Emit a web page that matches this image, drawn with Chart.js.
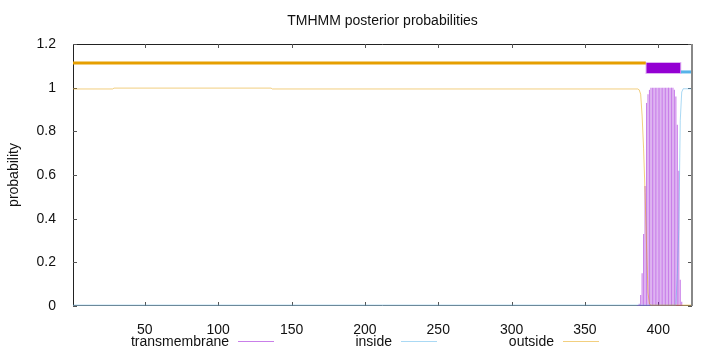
<!DOCTYPE html>
<html>
<head>
<meta charset="utf-8">
<script src="https://cdn.jsdelivr.net/npm/chart.js@4.4.1/dist/chart.umd.min.js"></script>
<style>
    html, body { margin: 0; padding: 0; background: #fff; }
    #wrap { width: 720px; height: 352px; }
</style>
</head>
<body>
<div id="wrap"><canvas id="tmhmm"></canvas></div>
<script>
// sequence / axes
const seqStart = 1;
const seqEnd = 423;
const xTicks = [50, 100, 150, 200, 250, 300, 350, 400];
const yTicks = [0, 0.2, 0.4, 0.6, 0.8, 1, 1.2];
const yTickLabels = ['0', '0.2', '0.4', '0.6', '0.8', '1', '1.2'];
const seriesNames = ['transmembrane', 'inside', 'outside'];

// posterior probability of "outside" (breakpoints)
const outsidePos = [1, 28, 29, 136, 137, 386, 387, 388, 389, 390, 391, 392, 393, 394, 395, 423];
const outsideVal = [0.994, 0.994, 0.998, 0.998, 0.994, 0.994, 0.99, 0.97, 0.87, 0.72, 0.52, 0.28, 0.06, 0.01, 0.004, 0.004];

// posterior probability of "inside"
const insidePos = [1, 412, 413, 414, 415, 416, 417, 423];
const insideVal = [0.004, 0.004, 0.15, 0.35, 0.85, 0.98, 0.995, 0.995];

// posterior probability of "transmembrane" (impulses, one per residue)
const tmPos = [386, 387, 388, 389, 390, 391, 392, 393, 394, 395, 396, 397, 398, 399, 400,
               401, 402, 403, 404, 405, 406, 407, 408, 409, 410, 411, 412, 413, 414, 415, 416];
const tmVal = [0.005, 0.01, 0.05, 0.15, 0.33, 0.55, 0.93, 0.97, 0.99, 1, 1, 1, 1, 1, 1,
               1, 1, 1, 1, 1, 1, 1, 1, 1, 1, 0.99, 0.96, 0.83, 0.62, 0.12, 0.02];

// predicted topology drawn above the curves
const topoStart = [1, 392, 415.5];
const topoEnd = [391.5, 415, 423];
const topoLevel = [1.113, 1.09, 1.072];

const colTM = '#9400d3';
const colIn = '#56b4e9';
const colOut = '#e69f00';
const thinTM = 'rgba(148, 0, 211, 0.5)';
const thinIn = 'rgba(86, 180, 233, 0.5)';
const thinOut = 'rgba(230, 159, 0, 0.5)';

const pts = (xs, ys) => xs.map((x, i) => ({ x: x, y: ys[i] }));
const seg = (i, pad) => [{ x: topoStart[i] - pad, y: topoLevel[i] }, { x: topoEnd[i] + pad, y: topoLevel[i] }];

const FONT = '"Liberation Sans", Arial, sans-serif';

// gnuplot style frame, inward ticks, title and key
const gnuplotFrame = {
    id: 'gnuplotFrame',
    beforeDatasetsDraw(chart) {
        const { ctx, chartArea: a, scales: { x, y } } = chart;
        ctx.save();
        ctx.strokeStyle = '#222';
        ctx.lineWidth = 1;
        ctx.beginPath();
        ctx.moveTo(a.left + 0.5, a.bottom);
        ctx.lineTo(a.left + 0.5, a.top + 0.5);
        ctx.lineTo(a.right, a.top + 0.5);
        ctx.stroke();
        ctx.strokeStyle = '#777';
        ctx.beginPath();
        ctx.moveTo(a.left, a.bottom - 0.5);
        ctx.lineTo(a.right, a.bottom - 0.5);
        ctx.stroke();
        ctx.strokeStyle = '#555';
        ctx.beginPath();
        xTicks.forEach(v => {
            const px = Math.round(x.getPixelForValue(v)) + 0.5;
            ctx.moveTo(px, a.bottom);
            ctx.lineTo(px, a.bottom - 4);
            ctx.moveTo(px, a.top);
            ctx.lineTo(px, a.top + 4);
        });
        yTicks.forEach(v => {
            const py = Math.round(y.getPixelForValue(v)) + 0.5;
            ctx.moveTo(a.left, py);
            ctx.lineTo(a.left + 4, py);
            ctx.moveTo(a.right, py);
            ctx.lineTo(a.right - 4, py);
        });
        ctx.stroke();
        ctx.restore();
    },
    afterDraw(chart) {
        const { ctx, chartArea: a } = chart;
        ctx.save();
        ctx.strokeStyle = '#888';
        ctx.lineWidth = 2;
        ctx.beginPath();
        ctx.moveTo(a.right, a.top);
        ctx.lineTo(a.right, a.bottom);
        ctx.stroke();

        ctx.fillStyle = '#111';
        ctx.font = '14px ' + FONT;
        ctx.textBaseline = 'middle';
        ctx.textAlign = 'center';
        ctx.fillText('TMHMM posterior probabilities', (a.left + a.right) / 2, 21);

        const keyRight = [229, 392, 554];
        const keyCol = [thinTM, thinIn, thinOut];
        ctx.textAlign = 'right';
        seriesNames.forEach((name, i) => {
            ctx.fillStyle = '#111';
            ctx.fillText(name, keyRight[i], 342);
            ctx.strokeStyle = keyCol[i];
            ctx.lineWidth = 1;
            ctx.beginPath();
            ctx.moveTo(keyRight[i] + 9, 341.5);
            ctx.lineTo(keyRight[i] + 45, 341.5);
            ctx.stroke();
        });
        ctx.restore();
    }
};

const lineDefaults = { type: 'line', pointRadius: 0, borderWidth: 1, fill: false, tension: 0 };

new Chart(document.getElementById('tmhmm'), {
    type: 'bar',
    data: {
        datasets: [
            Object.assign({}, lineDefaults, { label: 'outside', data: pts(outsidePos, outsideVal), borderColor: thinOut, order: 1 }),
            Object.assign({}, lineDefaults, { label: 'inside', data: pts(insidePos, insideVal), borderColor: thinIn, order: 1 }),
            {
                type: 'bar', label: 'transmembrane', data: pts(tmPos, tmVal),
                backgroundColor: 'rgba(148, 0, 211, 0.5)', borderWidth: 0,
                barPercentage: 0.75, categoryPercentage: 1, order: 4
            },
            Object.assign({}, lineDefaults, { label: 'topo outside', data: seg(0, 0), borderColor: colOut, borderWidth: 3, order: 2 }),
            Object.assign({}, lineDefaults, { label: 'topo tm edge', data: seg(1, 0.7), borderColor: 'rgba(148, 0, 211, 0.3)', borderWidth: 12, order: 3 }),
            Object.assign({}, lineDefaults, { label: 'topo tm', data: seg(1, 0), borderColor: colTM, borderWidth: 10, order: 2 }),
            Object.assign({}, lineDefaults, { label: 'topo inside', data: seg(2, 0), borderColor: colIn, borderWidth: 3, order: 2 })
        ]
    },
    options: {
        responsive: true,
        maintainAspectRatio: false,
        animation: false,
        layout: { padding: { top: 44, right: 28, left: 0, bottom: 0 } },
        plugins: {
            legend: { display: false },
            tooltip: { enabled: false },
            title: { display: false }
        },
        scales: {
            x: {
                type: 'linear',
                min: seqStart,
                max: seqEnd,
                offset: false,
                afterFit: s => { s.height = 46; },
                afterBuildTicks: s => { s.ticks = xTicks.map(v => ({ value: v })); },
                grid: { display: false },
                border: { display: false },
                ticks: { color: '#111', font: { family: FONT, size: 14 }, padding: 8, maxRotation: 0, autoSkip: false }
            },
            y: {
                min: 0,
                max: 1.2,
                afterFit: s => { s.width = 73; },
                afterBuildTicks: s => { s.ticks = yTicks.map(v => ({ value: v })); },
                grid: { display: false },
                border: { display: false },
                ticks: {
                    color: '#111', font: { family: FONT, size: 14 }, padding: 9,
                    callback: (v, i) => yTickLabels[i]
                },
                title: { display: true, text: 'probability', color: '#111', font: { family: FONT, size: 14 }, padding: { top: 6 } }
            }
        }
    },
    plugins: [gnuplotFrame]
});
</script>
</body>
</html>
